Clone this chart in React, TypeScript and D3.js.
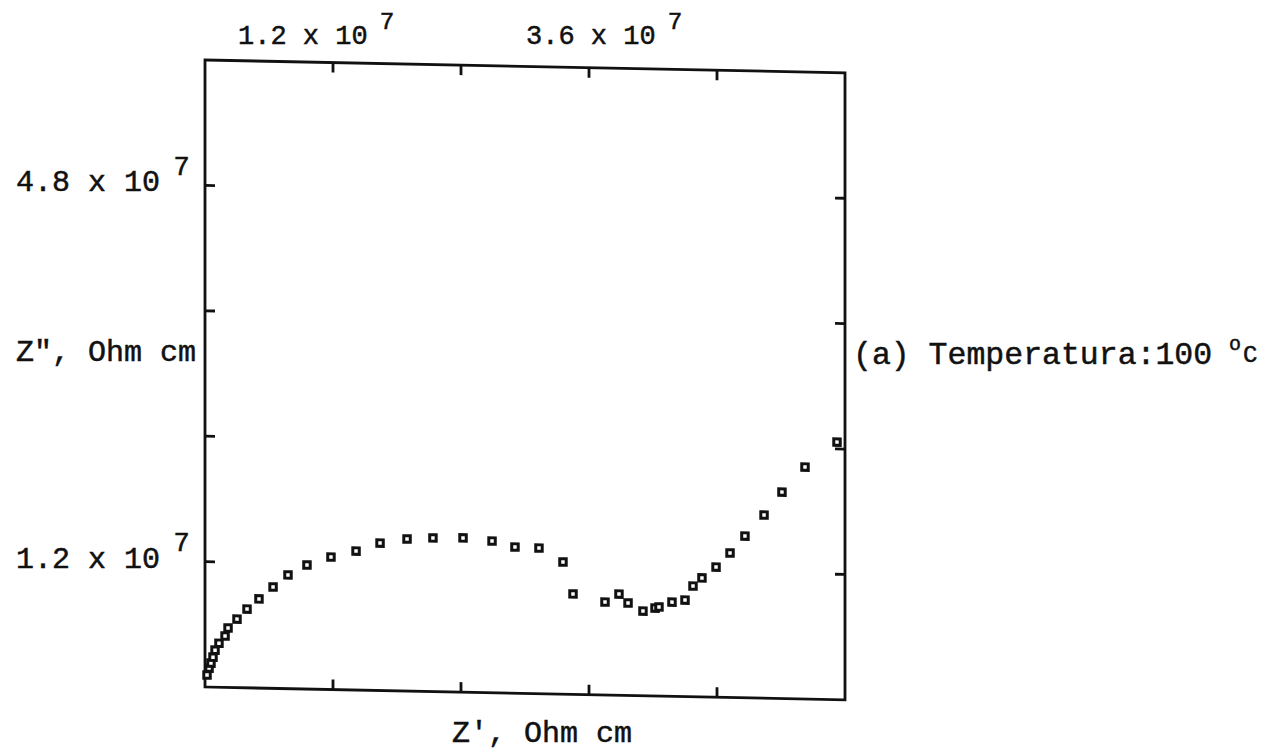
import { useRef, useEffect } from "react";
import * as d3 from "d3";

// Z' (real part), Ohm cm
const zReal = [
  0.019e7, 0.038e7, 0.056e7, 0.075e7, 0.094e7, 0.131e7, 0.188e7, 0.216e7,
  0.3e7, 0.394e7, 0.506e7, 0.638e7, 0.778e7, 0.956e7, 1.181e7, 1.416e7,
  1.641e7, 1.894e7, 2.137e7, 2.419e7, 2.691e7, 2.906e7, 3.131e7, 3.356e7,
  3.45e7, 3.75e7, 3.881e7, 3.966e7, 4.106e7, 4.219e7, 4.256e7, 4.378e7,
  4.5e7, 4.575e7, 4.659e7, 4.791e7, 4.922e7, 5.062e7, 5.241e7, 5.409e7,
  5.625e7, 5.925e7,
];
// Z'' (imaginary part), Ohm cm
const zImag = [
  0.115e7, 0.182e7, 0.23e7, 0.287e7, 0.354e7, 0.421e7, 0.492e7, 0.569e7,
  0.656e7, 0.754e7, 0.853e7, 0.97e7, 1.088e7, 1.187e7, 1.268e7, 1.33e7,
  1.411e7, 1.455e7, 1.47e7, 1.476e7, 1.452e7, 1.399e7, 1.394e7, 1.265e7,
  0.961e7, 0.89e7, 0.969e7, 0.885e7, 0.811e7, 0.842e7, 0.853e7, 0.902e7,
  0.924e7, 1.06e7, 1.139e7, 1.246e7, 1.383e7, 1.548e7, 1.753e7, 1.976e7,
  2.22e7, 2.465e7,
];

const axisMax = 6e7;
const tickValues = [1.2e7, 2.4e7, 3.6e7, 4.8e7];
const topLabels = [
  { value: 1.2e7, text: "1.2 x 10", exp: "7" },
  { value: 3.6e7, text: "3.6 x 10", exp: "7" },
];
const leftLabels = [
  { value: 4.8e7, text: "4.8 x 10", exp: "7" },
  { value: 1.2e7, text: "1.2 x 10", exp: "7" },
];
const xTitle = "Z', Ohm cm";
const yTitle = 'Z", Ohm cm';
const note = "(a) Temperatura:100 ";

export default function App() {
  const ref = useRef<SVGSVGElement>(null);

  useEffect(() => {
    if (!ref.current) return;
    const width = 1279;
    const height = 751;
    const left = 205,
      right = 845,
      top = 60,
      bottom = 687;
    const font = "'Liberation Mono', 'Courier New', monospace";
    const ink = "#111";

    const svg = d3.select(ref.current);
    svg.selectAll("*").remove();
    svg.attr("width", width).attr("height", height);
    svg.append("rect").attr("width", width).attr("height", height).attr("fill", "#fff");

    const x = d3.scaleLinear().domain([0, axisMax]).range([left, right]);
    const y = d3.scaleLinear().domain([0, axisMax]).range([bottom, top]);

    // the scanned plot is slightly skewed (right side sits lower)
    const plot = svg
      .append("g")
      .attr("transform", `translate(${left},0) skewY(1.15) translate(${-left},0)`);

    plot
      .append("rect")
      .attr("x", left)
      .attr("y", top)
      .attr("width", right - left)
      .attr("height", bottom - top)
      .attr("fill", "none")
      .attr("stroke", ink)
      .attr("stroke-width", 2.8);

    const tickLen = 10;
    const ticks = plot.append("g").attr("stroke", ink).attr("stroke-width", 2.8);
    tickValues.forEach((v) => {
      ticks.append("line").attr("x1", x(v)).attr("x2", x(v)).attr("y1", bottom).attr("y2", bottom - tickLen);
      ticks.append("line").attr("x1", x(v)).attr("x2", x(v)).attr("y1", top).attr("y2", top + tickLen);
      ticks.append("line").attr("x1", left).attr("x2", left + tickLen).attr("y1", y(v)).attr("y2", y(v));
      ticks.append("line").attr("x1", right).attr("x2", right - tickLen).attr("y1", y(v)).attr("y2", y(v));
    });

    const square = d3.symbol(d3.symbolSquare, 42);
    plot
      .append("g")
      .selectAll("path")
      .data(d3.range(zReal.length))
      .join("path")
      .attr("d", square)
      .attr("transform", (i) => `translate(${x(zReal[i])},${y(zImag[i])})`)
      .attr("fill", "#fff")
      .attr("stroke", ink)
      .attr("stroke-width", 3);

    const text = svg
      .append("g")
      .attr("font-family", font)
      .attr("font-size", 30)
      .attr("fill", ink)
      .attr("stroke", ink)
      .attr("stroke-width", 0.5);

    const withExp = (tx: number, ty: number, s: string, exp: string, size: number) => {
      const t = text.append("text").attr("x", tx).attr("y", ty).attr("font-size", size);
      t.append("tspan").text(s);
      t.append("tspan")
        .attr("dx", size * 0.45)
        .attr("dy", -size * 0.55)
        .attr("font-size", size * 0.9)
        .text(exp);
    };

    // top labels sit a little left of their ticks in the scan
    const topShift = [-95, -63];
    topLabels.forEach((d, i) => withExp(x(d.value) + topShift[i], 44, d.text, d.exp, 27));
    leftLabels.forEach((d) => withExp(16, y(d.value) + 6, d.text, d.exp, 30));

    text.append("text").attr("x", 16).attr("y", 361).text(yTitle);
    text.append("text").attr("x", 452).attr("y", 742).text(xTitle);

    const n = text.append("text").attr("x", 853).attr("y", 364).attr("font-size", 31.5);
    n.append("tspan").text(note);
    n.append("tspan").attr("dy", -14).attr("dx", -2).attr("font-size", 20).text("o");
    n.append("tspan").attr("dy", 12).attr("dx", 2).attr("font-size", 24).text("C");
  }, []);

  return (
    <svg
      ref={ref}
      style={{ position: "absolute", left: 0, top: 0, display: "block" }}
    />
  );
}
